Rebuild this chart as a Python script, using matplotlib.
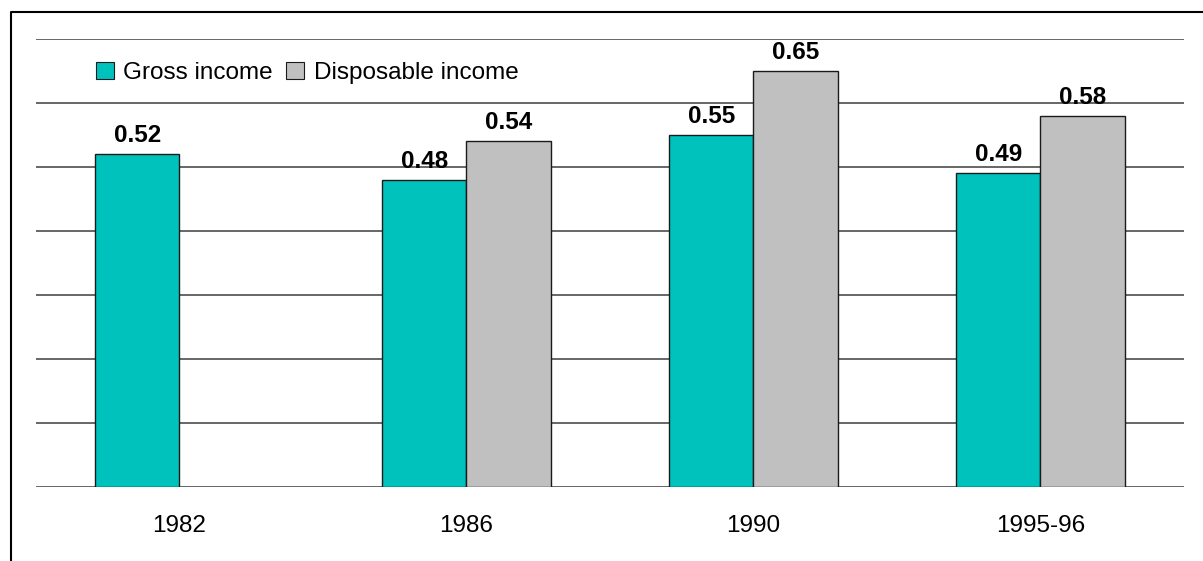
import matplotlib
matplotlib.use("Agg")
import matplotlib.pyplot as plt
import numpy as np
from matplotlib.lines import Line2D

plt.rcParams["font.family"] = ["Liberation Sans", "DejaVu Sans"]

# Gini-type coefficients by survey year
years = ["1982", "1986", "1990", "1995-96"]
gross_income = [0.52, 0.48, 0.55, 0.49]
disposable_income = [np.nan, 0.54, 0.65, 0.58]
y_gridlines = [0.1, 0.2, 0.3, 0.4, 0.5, 0.6, 0.7]

gross_color = "#00c2bd"
disp_color = "#c0c0c0"
grid_color = "#666666"

fig = plt.figure(figsize=(12.03, 5.61), dpi=100)
ax = fig.add_axes([0.0299, 0.1319, 0.9543, 0.7986])

x = np.arange(len(years))
width = 0.293

bars_g = ax.bar(x - width / 2, gross_income, width, color=gross_color,
                edgecolor="#1a1a1a", linewidth=1.0, label="Gross income", zorder=3)
bars_d = ax.bar(x + width / 2, disposable_income, width, color=disp_color,
                edgecolor="#1a1a1a", linewidth=1.0, label="Disposable income", zorder=3)

for bars, vals in [(bars_g, gross_income), (bars_d, disposable_income)]:
    for b, v in zip(bars, vals):
        if np.isnan(v):
            continue
        ax.annotate(f"{v:.2f}", (b.get_x() + b.get_width() / 2, v),
                    xytext=(0, 5), textcoords="offset points",
                    ha="center", va="bottom", fontsize=17.5, fontweight="bold")

for yv in [0.0] + y_gridlines:
    ax.axhline(yv, color=grid_color, linewidth=1.4, zorder=1)

ax.set_xlim(-0.5, len(years) - 0.5)
ax.set_ylim(0, 0.7)
ax.set_yticks([])
ax.set_xticks(x)
ax.set_xticklabels(years, fontsize=17.5)
ax.tick_params(axis="x", length=0, pad=20)
for s in ax.spines.values():
    s.set_visible(False)

leg = ax.legend(loc="center left", bbox_to_anchor=(0.0525, 0.925), ncol=2,
                frameon=False, fontsize=17.5, handlelength=0.72, handleheight=0.72,
                handletextpad=0.4, columnspacing=0.55, borderaxespad=0, borderpad=0)
for h in leg.legend_handles:
    h.set_linewidth(0.8)

# outer frame: left and top edges
fig.add_artist(Line2D([11 / 1203, 11 / 1203, 1.0], [0.0, 1 - 12 / 561, 1 - 12 / 561],
                      transform=fig.transFigure, color="black", linewidth=1.5))

fig.savefig("out.png", dpi=100)
